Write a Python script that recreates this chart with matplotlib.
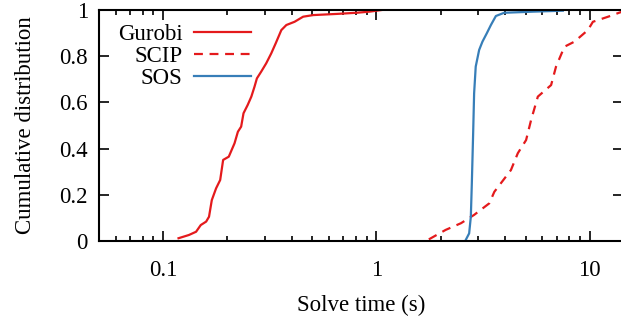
import matplotlib
matplotlib.use("Agg")
import matplotlib.pyplot as plt
import numpy as np
from matplotlib.ticker import FixedLocator, LogLocator, NullFormatter, FixedFormatter

plt.rcParams['font.family'] = ['Liberation Serif', 'DejaVu Serif']

# Gurobi solve times (s) and cumulative fraction
gurobi_t = [0.118, 0.132, 0.1426, 0.150, 0.159, 0.164, 0.169, 0.177, 0.185, 0.191,
            0.203, 0.216, 0.224, 0.232, 0.238, 0.249, 0.259, 0.268, 0.275, 0.288,
            0.304, 0.321, 0.337, 0.358, 0.378, 0.413, 0.453, 0.505, 0.650, 0.807,
            0.931, 1.057]
gurobi_p = [0.012, 0.026, 0.040, 0.069, 0.084, 0.105, 0.177, 0.228, 0.264, 0.351,
            0.365, 0.423, 0.473, 0.495, 0.553, 0.589, 0.625, 0.668, 0.704, 0.733,
            0.769, 0.812, 0.856, 0.913, 0.935, 0.949, 0.971, 0.978, 0.983, 0.988,
            0.993, 1.0]

# SCIP
scip_t = [1.76, 2.11, 2.49, 2.87, 3.38, 3.57, 4.27, 4.60, 5.03, 5.31, 5.71, 6.59,
          6.95, 7.61, 8.48, 9.8, 10.35, 12.2, 14.2]
scip_p = [0.007, 0.048, 0.077, 0.113, 0.163, 0.213, 0.307, 0.380, 0.437, 0.524,
          0.625, 0.675, 0.755, 0.841, 0.863, 0.913, 0.949, 0.971, 0.993]

# SOS
sos_t = [2.62, 2.72, 2.77, 2.80, 2.84, 2.87, 2.92, 3.03, 3.14, 3.29, 3.44, 3.63,
         3.97, 5.50, 7.48]
sos_p = [0.004, 0.033, 0.105, 0.25, 0.466, 0.639, 0.755, 0.827, 0.863, 0.899,
         0.935, 0.974, 0.988, 0.993, 0.997]

red = '#e41a1c'
blue = '#377eb8'
fs = 16.5

fig = plt.figure(figsize=(6.21, 3.23), dpi=100)
ax = fig.add_axes([99 / 621, 82 / 323, 1.003 - 99 / 621, 231 / 323])

ax.plot(gurobi_t, gurobi_p, color=red, lw=1.6, label='Gurobi')
ax.plot(scip_t, scip_p, color=red, lw=1.6, dashes=(4, 3), label='SCIP')
ax.plot(sos_t, sos_p, color=blue, lw=1.6, label='SOS')

ax.set_xscale('log')
ax.set_xlim(0.05, 14.3)
ax.set_ylim(0, 1)

ax.xaxis.set_major_locator(FixedLocator([0.1, 1, 10]))
ax.xaxis.set_major_formatter(FixedFormatter(['0.1', '1', '10']))
ax.xaxis.set_minor_locator(LogLocator(base=10, subs=np.arange(2, 10)))
ax.xaxis.set_minor_formatter(NullFormatter())
ax.set_yticks([0, 0.2, 0.4, 0.6, 0.8, 1.0])
ax.set_yticklabels(['0', '0.2', '0.4', '0.6', '0.8', '1'])

ax.tick_params(which='both', direction='in', top=True, right=True,
               labelsize=fs, width=1.2)
ax.tick_params(which='major', length=7.2)
ax.tick_params(which='minor', length=3.3)
ax.tick_params(axis='x', which='major', pad=14)
ax.tick_params(axis='y', which='major', pad=8)
for s in ax.spines.values():
    s.set_linewidth(1.5)

ax.set_xlabel('Solve time (s)', fontsize=fs, labelpad=9.5)
ax.set_ylabel('Cumulative distribution', fontsize=fs, labelpad=17)

ax.legend(loc='upper left', frameon=False, markerfirst=False, fontsize=fs,
          handlelength=2.5, handletextpad=0.5, labelspacing=0.05,
          borderaxespad=0.2, bbox_to_anchor=(0.01, 1.0))

fig.savefig('out.png', dpi=100)
